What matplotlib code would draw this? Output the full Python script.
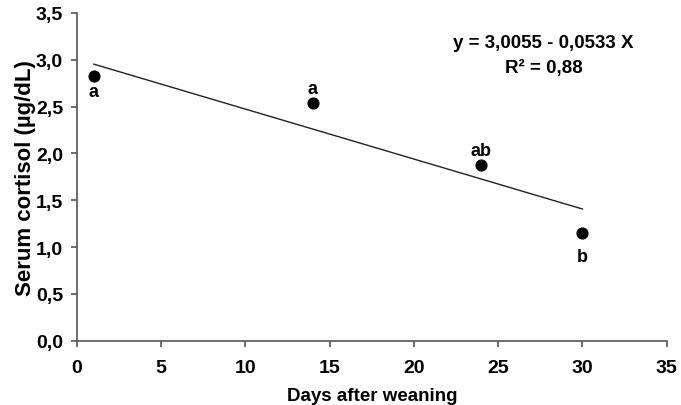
import matplotlib
matplotlib.use("Agg")
import matplotlib.pyplot as plt
from matplotlib.ticker import FuncFormatter
import numpy as np

days = [1, 14, 24, 30]
cortisol = [2.83, 2.54, 1.88, 1.155]
letters = ["a", "a", "ab", "b"]
letter_offsets = [-11.5, 10, 10, -17]
intercept = 3.0055
slope = -0.0533
equation = "y = 3,0055 - 0,0533 X"
r2_text = "R² = 0,88"

plt.rcParams['font.family'] = ['Liberation Sans', 'DejaVu Sans']

fig = plt.figure(figsize=(6.81, 4.06), dpi=100)
ax = fig.add_axes([0.113, 0.158, 0.866, 0.808])

ax.scatter(days, cortisol, s=60, color='black', zorder=3)
xl = np.array([days[0], days[-1]])
ax.plot(xl, intercept + slope * xl, color='#222222', lw=1.0)

for x, y, t, off in zip(days, cortisol, letters, letter_offsets):
    ax.annotate(t, (x, y), xytext=(0, off), textcoords='offset points',
                ha='center', va='center', fontsize=13, fontweight='bold')

ax.text(27.7, 3.18, equation, ha='center', va='center', fontsize=13.5, fontweight='bold')
ax.text(27.7, 2.92, r2_text, ha='center', va='center', fontsize=13.5, fontweight='bold')

ax.set_xlim(0, 35)
ax.set_ylim(0, 3.5)
ax.set_xticks(np.arange(0, 36, 5))
ax.set_yticks(np.arange(0, 3.51, 0.5))
ax.yaxis.set_major_formatter(FuncFormatter(lambda v, p: f"{v:.1f}".replace('.', ',')))
for s in ['top', 'right']:
    ax.spines[s].set_visible(False)
for s in ['left', 'bottom']:
    ax.spines[s].set_color('#555555')
    ax.spines[s].set_linewidth(1.2)
ax.tick_params(colors='#555555', length=4, width=1.2, labelcolor='black', labelsize=14)
ax.tick_params(axis='x', pad=9)
ax.tick_params(axis='y', pad=6)
for lab in ax.get_xticklabels() + ax.get_yticklabels():
    lab.set_fontweight('bold')
ax.set_xlabel("Days after weaning", fontsize=13.5, fontweight='bold', labelpad=8)
ax.set_ylabel("Serum cortisol (µg/dL)", fontsize=16, fontweight='bold', labelpad=0)

fig.savefig("out.png", dpi=100)
